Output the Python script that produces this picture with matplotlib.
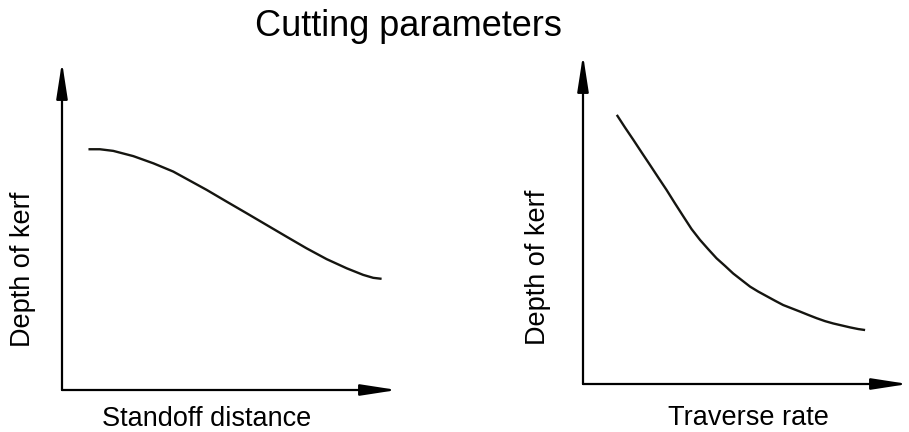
import numpy as np
import matplotlib
matplotlib.use("Agg")
import matplotlib.pyplot as plt

plt.rcParams['font.family'] = ['Liberation Sans', 'DejaVu Sans']

W, H = 909, 432

# left panel: depth of kerf vs standoff distance (arbitrary units 0..10)
standoff_x = [0.79, 1.13, 1.53, 2.13, 2.73, 3.32, 3.82, 4.32, 4.92, 5.51,
              6.11, 6.71, 7.30, 7.90, 8.50, 8.99, 9.29, 9.54]
standoff_y = [7.34, 7.34, 7.29, 7.13, 6.91, 6.66, 6.38, 6.10, 5.74, 5.39,
              5.03, 4.67, 4.32, 3.99, 3.71, 3.51, 3.42, 3.39]

# right panel: depth of kerf vs traverse rate
traverse_x = [1.04, 1.29, 1.55, 1.81, 2.06, 2.32, 2.57, 2.83, 3.09, 3.34,
              3.60, 3.86, 4.11, 4.37, 4.62, 4.88, 5.14, 5.39, 5.65, 5.91,
              6.16, 6.42, 6.68, 6.93, 7.19, 7.45, 7.70, 7.96, 8.22, 8.47, 8.68]
traverse_y = [8.18, 7.80, 7.42, 7.03, 6.66, 6.27, 5.90, 5.49, 5.09, 4.71,
              4.38, 4.09, 3.82, 3.59, 3.36, 3.16, 2.96, 2.81, 2.67, 2.53,
              2.40, 2.30, 2.20, 2.10, 2.00, 1.91, 1.84, 1.78, 1.72, 1.67, 1.64]

title = "Cutting parameters"
ylabel = "Depth of kerf"
xlabels = ["Standoff distance", "Traverse rate"]

fig = plt.figure(figsize=(W / 100, H / 100), dpi=100)


def px_axes(x0, y0, x1, y1):
    # x0,y0 = origin pixel; x1 = x arrow tip; y1 = y arrow tip
    return fig.add_axes([x0 / W, 1 - y0 / H, (x1 - x0) / W, (y0 - y1) / H])


def arrows(ax):
    ax.set_xlim(0, 10)
    ax.set_ylim(0, 10)
    ax.axis('off')
    style = '-|>,head_length=2.2,head_width=0.34'
    for tip in [(0, 1), (1, 0)]:
        ax.annotate('', xy=tip, xytext=(0, 0), xycoords='axes fraction',
                    arrowprops=dict(arrowstyle=style, color='black', lw=1.6,
                                    mutation_scale=10, shrinkA=0, shrinkB=0))


ax1 = px_axes(62, 390, 397, 62)
arrows(ax1)
ax1.plot(standoff_x, standoff_y, color='#151510', lw=1.7,
         solid_capstyle='butt', solid_joinstyle='round')

ax2 = px_axes(583, 384, 908, 55)
arrows(ax2)
ax2.plot(traverse_x, traverse_y, color='#151510', lw=1.7,
         solid_capstyle='butt', solid_joinstyle='round')

fig.text(408 / W, 1 - 36 / H, title, ha='center', va='baseline', fontsize=26)
fig.text(23 / W, 1 - 269 / H, ylabel, ha='center', va='center', rotation=90, fontsize=19.5)
fig.text(538 / W, 1 - 267 / H, ylabel, ha='center', va='center', rotation=90, fontsize=19.5)
fig.text(207 / W, 1 - 426 / H, xlabels[0], ha='center', va='baseline', fontsize=19.5)
fig.text(748 / W, 1 - 425 / H, xlabels[1], ha='center', va='baseline', fontsize=19.5)

fig.savefig('out.png', dpi=100)
